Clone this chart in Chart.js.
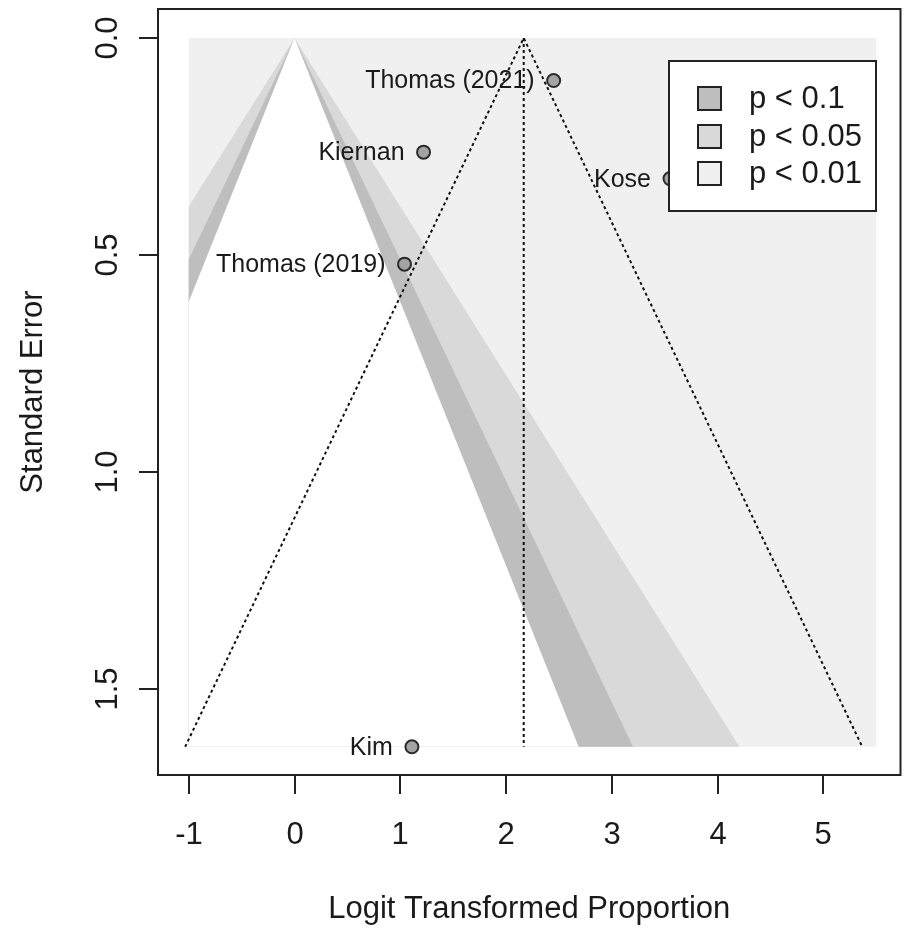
<!DOCTYPE html>
<html>
<head>
<meta charset="utf-8">
<script src="https://cdn.jsdelivr.net/npm/chart.js@4.4.0/dist/chart.umd.min.js"></script>
<style>
  html, body { margin: 0; padding: 0; background: #fff; }
  #wrap { width: 909px; height: 930px; }
</style>
</head>
<body>
<div id="wrap"><canvas id="mycanvas" width="909" height="930"></canvas></div>
<script>
// studies (logit proportion vs standard error)
var studyNames = ["Thomas (2021)", "Kiernan", "Kose", "Thomas (2019)", "Kim"];
var studyEffect = [2.45, 1.22, 3.55, 1.04, 1.11];
var studySE = [0.098, 0.263, 0.324, 0.521, 1.633];
var pooledEffect = 2.167;

var xTicks = [-1, 0, 1, 2, 3, 4, 5];
var xTickLabels = ["-1", "0", "1", "2", "3", "4", "5"];
var yTicks = [0, 0.5, 1, 1.5];
var yTickLabels = ["0.0", "0.5", "1.0", "1.5"];

// contour levels
var contourLabels = ["p < 0.1", "p < 0.05", "p < 0.01"];
var contourZ = [1.645, 1.96, 2.576];
var contourColors = ["#bebebe", "#d9d9d9", "#f0f0f0"];
var contourRange = [-1, 5.5];

var xTitle = "Logit Transformed Proportion";
var yTitle = "Standard Error";

var seMax = Math.max.apply(null, studySE);
var FONT = "'Liberation Sans', Arial, sans-serif";

var points = [];
for (var i in studyNames) {
	points.push({x: studyEffect[i], y: studySE[i]});
}

// region between -z*se and z*se, cut at the left end of the contour range
function wedge(z) {
	return [
		{x: 0, y: 0},
		{x: z * seMax, y: seMax},
		{x: contourRange[0], y: seMax},
		{x: contourRange[0], y: -contourRange[0] / z}
	];
}

var funnel = [
	{x: pooledEffect - 1.96 * seMax, y: seMax},
	{x: pooledEffect, y: 0},
	{x: pooledEffect + 1.96 * seMax, y: seMax}
];
var centerLine = [{x: pooledEffect, y: 0}, {x: pooledEffect, y: seMax}];
var fullRect = [
	{x: contourRange[0], y: 0}, {x: contourRange[1], y: 0},
	{x: contourRange[1], y: seMax}, {x: contourRange[0], y: seMax}
];

function area(data, color) {
	return {
		type: 'line', data: data, fill: 'shape',
		backgroundColor: color, borderColor: 'rgba(0,0,0,0)', borderWidth: 0,
		pointRadius: 0, tension: 0
	};
}

var chartdata = {
	datasets: [
		{
			type: 'scatter',
			data: points,
			pointRadius: 6.5,
			pointBackgroundColor: "#a3a3a3",
			pointBorderColor: "#2b2b2b",
			pointBorderWidth: 2
		},
		{
			type: 'line', data: funnel, fill: false,
			borderColor: "#111", borderWidth: 2, borderDash: [3, 3],
			pointRadius: 0, tension: 0
		},
		{
			type: 'line', data: centerLine, fill: false,
			borderColor: "#111", borderWidth: 2, borderDash: [3, 3],
			pointRadius: 0, tension: 0
		},
		area(wedge(contourZ[0]), "#ffffff"),
		area(wedge(contourZ[1]), contourColors[0]),
		area(wedge(contourZ[2]), contourColors[1]),
		area(fullRect, contourColors[2])
	]
};

var decor = {
	id: 'decor',
	afterDraw: function(chart) {
		var ctx = chart.ctx;
		var a = chart.chartArea;
		var xs = chart.scales.x, ys = chart.scales.y;
		ctx.save();
		ctx.strokeStyle = "#222";
		ctx.fillStyle = "#1a1a1a";
		ctx.lineWidth = 2;

		// box
		ctx.strokeRect(a.left, a.top, a.right - a.left, a.bottom - a.top);

		// x axis
		ctx.font = "31px " + FONT;
		ctx.textAlign = "center";
		ctx.textBaseline = "alphabetic";
		for (var i in xTicks) {
			var px = Math.round(xs.getPixelForValue(xTicks[i]));
			ctx.beginPath();
			ctx.moveTo(px, a.bottom);
			ctx.lineTo(px, a.bottom + 19);
			ctx.stroke();
			ctx.fillText(xTickLabels[i], px, 844);
		}
		ctx.fillText(xTitle, (a.left + a.right) / 2, 918);

		// y axis
		for (var j in yTicks) {
			var py = Math.round(ys.getPixelForValue(yTicks[j]));
			ctx.beginPath();
			ctx.moveTo(a.left - 19, py);
			ctx.lineTo(a.left, py);
			ctx.stroke();
			ctx.save();
			ctx.translate(117, py);
			ctx.rotate(-Math.PI / 2);
			ctx.fillText(yTickLabels[j], 0, 0);
			ctx.restore();
		}
		ctx.save();
		ctx.translate(42, (a.top + a.bottom) / 2);
		ctx.rotate(-Math.PI / 2);
		ctx.fillText(yTitle, 0, 0);
		ctx.restore();

		// study labels
		ctx.font = "25px " + FONT;
		ctx.textAlign = "right";
		ctx.textBaseline = "middle";
		for (var k in studyNames) {
			ctx.fillText(studyNames[k],
				xs.getPixelForValue(studyEffect[k]) - 19,
				ys.getPixelForValue(studySE[k]) + 1);
		}

		// legend
		var lx = 669, ly = 61, lw = 207, lh = 150;
		ctx.fillStyle = "#fff";
		ctx.fillRect(lx, ly, lw, lh);
		ctx.strokeRect(lx, ly, lw, lh);
		ctx.font = "31px " + FONT;
		ctx.textAlign = "left";
		var rows = [98.5, 136.5, 173.5];
		for (var m in contourLabels) {
			ctx.fillStyle = contourColors[m];
			ctx.fillRect(698, rows[m] - 11.5, 23, 23);
			ctx.strokeRect(698, rows[m] - 11.5, 23, 23);
			ctx.fillStyle = "#1a1a1a";
			ctx.fillText(contourLabels[m], 749, rows[m] + 1);
		}
		ctx.restore();
	}
};

var ctx = document.getElementById("mycanvas");
var funnelPlot = new Chart(ctx, {
	type: 'scatter',
	data: chartdata,
	options: {
		responsive: false,
		animation: false,
		layout: { padding: { left: 158, top: 9, right: 2, bottom: 155 } },
		scales: {
			x: { type: 'linear', min: -1.2905, max: 5.729, display: false },
			y: { type: 'linear', min: -0.0668, max: 1.698, reverse: true, display: false }
		},
		plugins: {
			legend: { display: false },
			tooltip: { enabled: false }
		}
	},
	plugins: [decor]
});
</script>
</body>
</html>
